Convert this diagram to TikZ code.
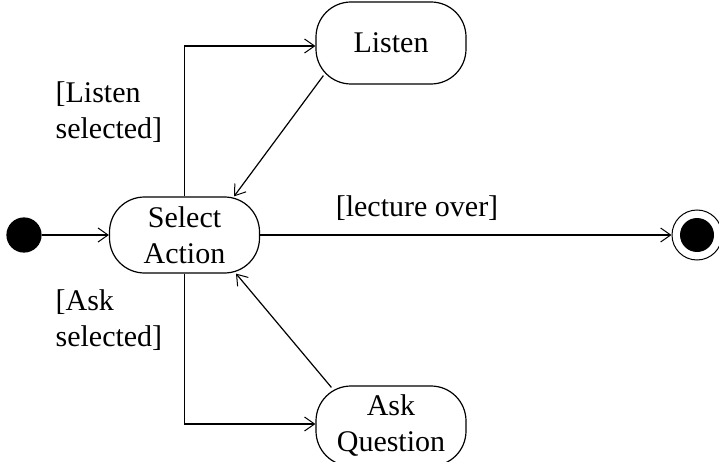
\documentclass[tikz,border=0pt]{standalone}
\usepackage{fontspec}
\setmainfont{Liberation Serif}
\usetikzlibrary{arrows.meta}
\begin{document}
\begin{tikzpicture}[x=1pt,y=1pt,line width=1.2pt,
  font=\fontsize{30}{36}\selectfont,
  state/.style={draw,rounded corners=35pt,minimum width=150pt,align=center,inner sep=0pt},
  arr/.style={-{Straight Barb[length=10pt,width=14pt,line width=1pt]}},
  guard/.style={align=left,inner sep=0pt}]
\useasboundingbox (0,0) rectangle (719,461);
\node[circle,fill=black,draw,minimum size=34pt,inner sep=0pt] (start) at (24,226) {};
\node[state,minimum height=76pt] (select) at (184.5,226) {Select\\Action};
\node[state,minimum height=82pt] (listen) at (391,418) {Listen};
\node[state,minimum height=80pt] (ask) at (391,35) {Ask\\Question};
\node[circle,draw,line width=1pt,minimum size=50pt,inner sep=0pt] (stop) at (697,226) {};
\node[circle,fill=black,minimum size=34pt,inner sep=0pt] (stopdot) at (stop) {};
\draw[arr] (start) -- (select);
\draw[arr] (select.north) |- ([yshift=-3pt]listen.west);
\draw[arr] ([shift={(8,9)}]listen.south west) -- ([xshift=49.5pt]select.north);
\draw[arr] (select.south) |- ([yshift=2pt]ask.west);
\draw[arr] ([shift={(16,-2)}]ask.north west) -- ([xshift=51.5pt]select.south);
\draw[arr] (select.east) -- (stop.west);
\node (lecture) at (417,253) {[lecture over]};
\node[guard,anchor=west] (listensel) at (55,349) {[Listen\\selected]};
\node[guard,anchor=west] (asksel) at (55,141) {[Ask\\selected]};
\end{tikzpicture}
\end{document}
